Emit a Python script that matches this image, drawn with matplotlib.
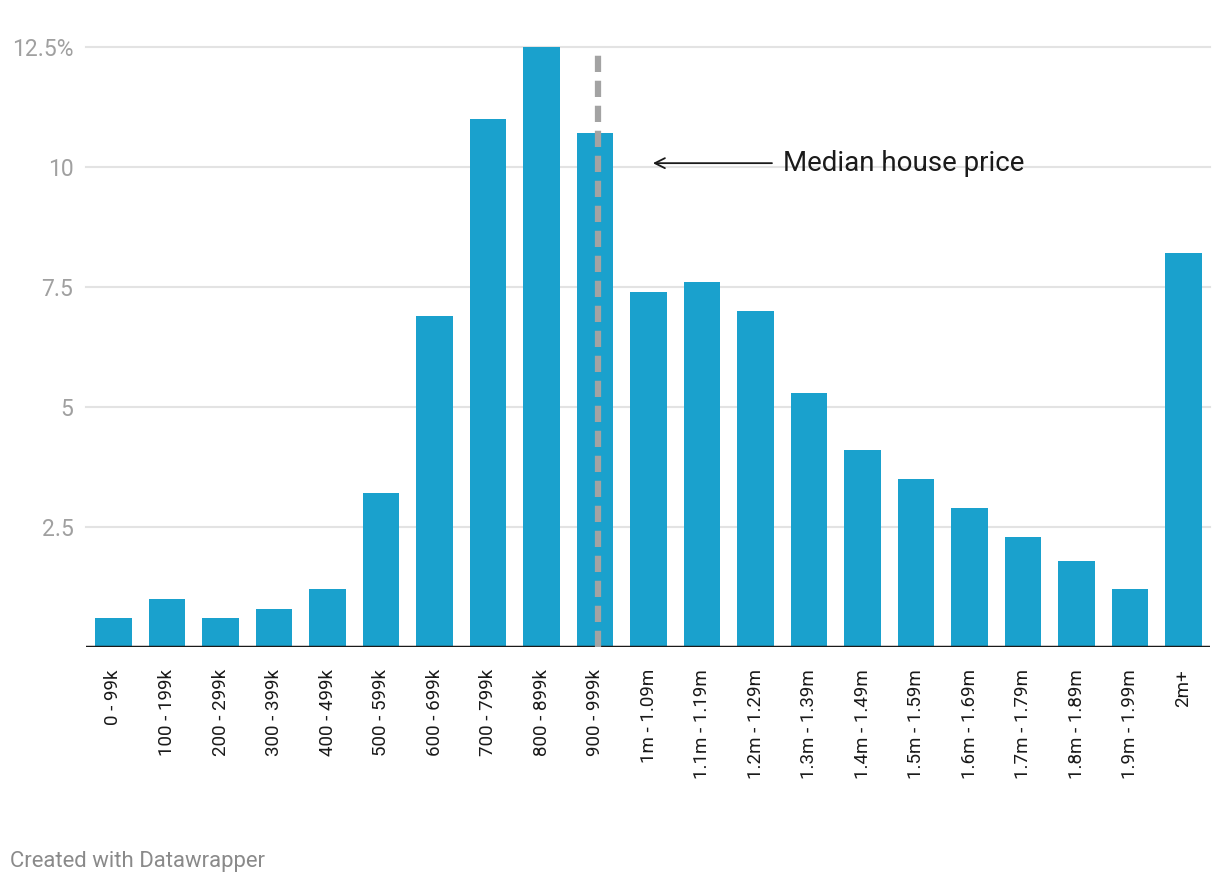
import matplotlib
matplotlib.use("Agg")
import matplotlib.pyplot as plt

plt.rcParams['font.family'] = ['Roboto', 'DejaVu Sans']

# price bands and share of sales (%)
kategorie = ["0 - 99k", "100 - 199k", "200 - 299k", "300 - 399k", "400 - 499k",
             "500 - 599k", "600 - 699k", "700 - 799k", "800 - 899k", "900 - 999k",
             "1m - 1.09m", "1.1m - 1.19m", "1.2m - 1.29m", "1.3m - 1.39m", "1.4m - 1.49m",
             "1.5m - 1.59m", "1.6m - 1.69m", "1.7m - 1.79m", "1.8m - 1.89m", "1.9m - 1.99m",
             "2m+"]
udzial = [0.6, 1.0, 0.6, 0.8, 1.2, 3.2, 6.9, 11.0, 12.5, 10.7,
          7.4, 7.6, 7.0, 5.3, 4.1, 3.5, 2.9, 2.3, 1.8, 1.2, 8.2]
y_ticks = [2.5, 5, 7.5, 10, 12.5]
y_labels = ["2.5", "5", "7.5", "10", "12.5%"]
mediana_x = 9.065  # median house price position (between bands)
opis = "Median house price"

fig = plt.figure(figsize=(12.2, 8.86), dpi=100)
ax = fig.add_axes([86/1220, 1-647/886, (1210-86)/1220, 600/886])

x = list(range(len(kategorie)))
ax.bar(x, udzial, width=0.69, color="#1aa1cd", zorder=2)

ax.set_xlim(-0.514, len(kategorie) - 1 + 0.495)
ax.set_ylim(0, 12.5)

for t in y_ticks:
    ax.axhline(t, color="#e3e3e3", lw=1.5, zorder=0, clip_on=False)
ax.axhline(0, color="#1a1a1a", lw=2.5, zorder=3)

ax.set_yticks(y_ticks)
ax.set_yticklabels(y_labels, color="#a0a0a0", fontsize=16.5)
ax.set_xticks(x)
ax.set_xticklabels(kategorie, rotation=90, fontsize=13.5, color="#1a1a1a")
ax.tick_params(axis="both", length=0)
ax.tick_params(axis="y", pad=9)
ax.tick_params(axis="x", pad=16)
for s in ax.spines.values():
    s.set_visible(False)

# median line + annotation
ax.plot([mediana_x, mediana_x], [0, 12.5], color="#a3a3a3", lw=4.5,
        ls=(0, (2.6, 1.4)), zorder=4, clip_on=False)
ax.annotate("", xy=(10.03, 10.08), xytext=(12.36, 10.08),
            arrowprops=dict(arrowstyle="->", color="#1a1a1a", lw=1.3,
                            mutation_scale=18))
ax.text(12.51, 10.08, opis, fontsize=20, color="#1a1a1a", va="center", ha="left")

fig.text(10/1220, 1-861/886, "Created with Datawrapper", fontsize=15.9,
         color="#8a8a8a", va="center", ha="left")

fig.savefig("out.png", dpi=100)
